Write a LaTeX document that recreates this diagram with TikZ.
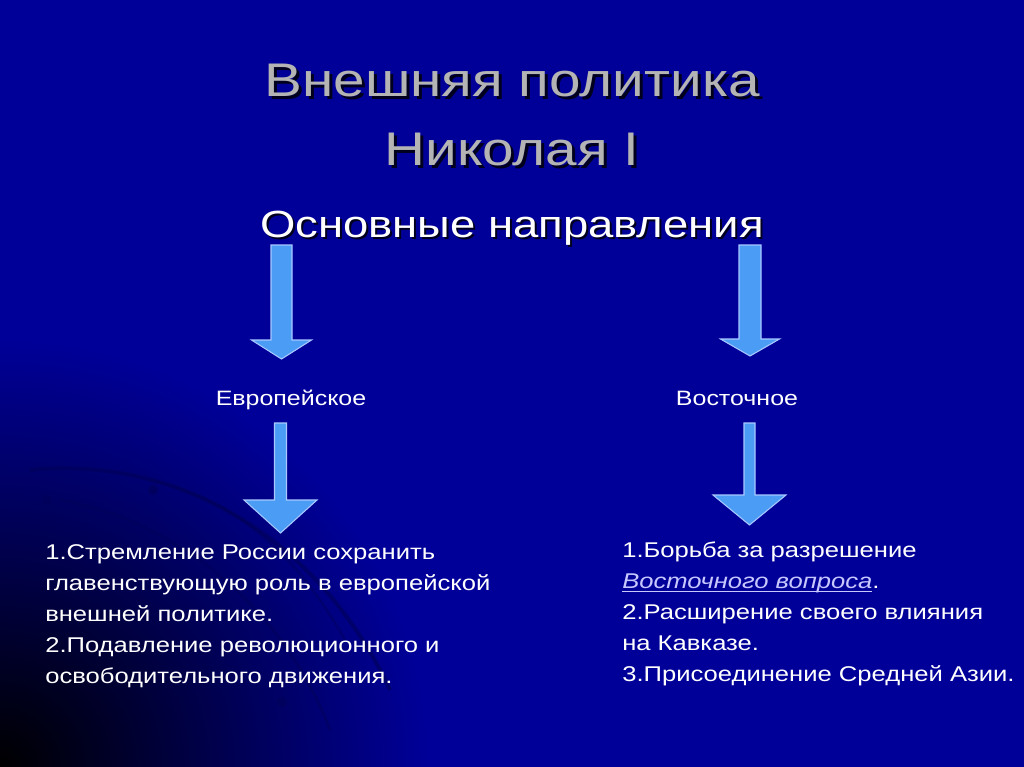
\documentclass[tikz,border=0pt]{standalone}
\usepackage{fontspec}
\setmainfont{Liberation Sans}
\newfontfamily\slidefont[FakeStretch=1.2]{Liberation Sans}
\usetikzlibrary{positioning}
\definecolor{slideblue}{HTML}{000099}
\definecolor{titlegray}{HTML}{B4B4B4}
\definecolor{arrowfill}{HTML}{4A9CF5}
\definecolor{arrowedge}{HTML}{A8C8FF}
\definecolor{linkviolet}{HTML}{C8C8FF}
\definecolor{swirl}{HTML}{00005A}

% block arrow: name, centre x, top y, head y, tip y, shaft half, head half
\newcommand\blockarrow[7]{%
  \draw[fatarrow] (#2-#6,#3) -- (#2+#6,#3) -- (#2+#6,#4) -- (#2+#7,#4)
    -- (#2,#5) coordinate (#1) -- (#2-#7,#4) -- (#2-#6,#4) -- cycle;}
% underlined link text
\newcommand\linktext[1]{{\color{linkviolet}\itshape\setbox0\hbox{#1}%
  \rlap{\rule[-2.2pt]{\wd0}{0.7pt}}\box0}}

\begin{document}
\begin{tikzpicture}[
 x=0.75pt,y=-0.75pt,
 titletext/.style={font=\slidefont\fontsize{35.4}{51.75}\selectfont,
   align=center,inner sep=0},
 subtext/.style={font=\slidefont\fontsize{28.4}{34}\selectfont,inner sep=0},
 labeltext/.style={font=\slidefont\fontsize{15.6}{19}\selectfont,
   text=white,inner sep=0},
 listtext/.style={font=\slidefont\fontsize{16}{23.25}\selectfont,
   text=white,align=left,inner sep=0},
 fatarrow/.style={fill=arrowfill,draw=arrowedge,line width=0.8pt,
   line join=miter}
]
\fill[slideblue] (0,0) rectangle (1024,767);
\useasboundingbox (0,0) rectangle (1024,767);
\begin{scope}
\clip (0,0) rectangle (1024,767);
\shade[inner color=black,outer color=slideblue] (0,767) circle (430);
\end{scope}
% faint swirls, lower left
\draw[swirl,line width=3pt,opacity=0.6] (30,470) .. controls (180,455) and (320,540) .. (390,690);
\draw[swirl,line width=2pt,opacity=0.5] (60,500) .. controls (170,520) and (280,600) .. (330,730);
\draw[swirl,line width=2pt,opacity=0.4] (150,480) .. controls (240,500) and (300,560) .. (345,640);
\fill[swirl,opacity=0.7] (47,500) circle (5);
\fill[swirl,opacity=0.7] (153,490) circle (5);
\fill[swirl,opacity=0.7] (282,702) circle (5);

\node[titletext,text=black,opacity=0.8,anchor=north] (title-shadow) at (515,67)
 {Внешняя политика\\Николая I};
\node[titletext,text=titlegray,anchor=north] (title) at (512,64)
 {Внешняя политика\\Николая I};
\node[subtext,text=black,opacity=0.8,anchor=base] (main-shadow) at (514,239)
 {Основные направления};
\node[subtext,text=white,anchor=base] (main) at (512,237)
 {Основные направления};

\node[labeltext,anchor=base] (europe) at (291,405) {Европейское};
\node[labeltext,anchor=base] (east) at (737,405) {Восточное};

\node[listtext,anchor=north west] (europe-list) at (45,544)
 {1.Стремление России сохранить\\главенствующую роль в европейской\\
  внешней политике.\\2.Подавление революционного и\\освободительного движения.};
\node[listtext,anchor=north west] (east-list) at (622,542)
 {1.Борьба за разрешение\\\linktext{Восточного вопроса}.\\
  2.Расширение своего влияния\\на Кавказе.\\3.Присоединение Средней Азии.};

\blockarrow{europe-in}{281.5}{245}{340}{359}{10.5}{30}
\blockarrow{east-in}{750}{245}{339}{356}{11}{29.5}
\blockarrow{europe-out}{280.5}{423}{500}{533}{6}{36.5}
\blockarrow{east-out}{749.5}{423}{495}{525}{5.5}{36.5}
\end{tikzpicture}
\end{document}
